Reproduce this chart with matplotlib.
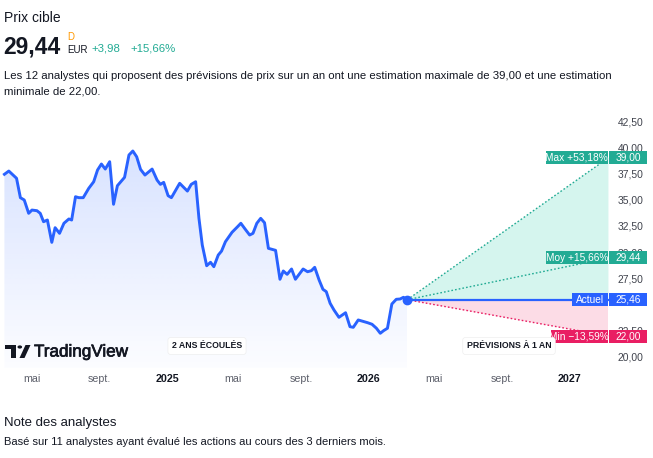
import matplotlib
matplotlib.use('Agg')
import matplotlib.pyplot as plt
import matplotlib.dates as mdates
import matplotlib.patheffects as pe
import numpy as np
import pandas as pd
from matplotlib.patches import Rectangle, Polygon, Circle

plt.rcParams['font.family'] = ['Liberation Sans', 'DejaVu Sans']

# ---------------- data ----------------
dates = ['2024-03-12', '2024-03-20', '2024-04-03', '2024-04-10', '2024-04-17', '2024-04-25',
         '2024-05-01', '2024-05-10', '2024-05-16', '2024-05-22', '2024-05-29', '2024-06-06',
         '2024-06-12', '2024-06-20', '2024-06-28', '2024-07-07', '2024-07-12', '2024-07-19',
         '2024-07-25', '2024-08-02', '2024-08-12', '2024-08-21', '2024-08-28', '2024-09-04',
         '2024-09-11', '2024-09-19', '2024-09-26', '2024-10-03', '2024-10-16', '2024-10-24',
         '2024-10-31', '2024-11-07', '2024-11-14', '2024-11-22', '2024-12-05', '2024-12-14',
         '2024-12-20', '2024-12-26', '2025-01-03', '2025-01-09', '2025-01-24', '2025-02-07',
         '2025-02-14', '2025-02-22', '2025-02-28', '2025-03-06', '2025-03-14', '2025-03-21',
         '2025-03-27', '2025-04-04', '2025-04-10', '2025-04-17', '2025-04-29', '2025-05-09',
         '2025-05-15', '2025-05-24', '2025-05-31', '2025-06-06', '2025-06-13', '2025-06-20',
         '2025-06-27', '2025-07-04', '2025-07-17', '2025-07-25', '2025-07-31', '2025-08-07',
         '2025-08-15', '2025-08-22', '2025-09-05', '2025-09-13', '2025-09-20', '2025-09-26',
         '2025-10-04', '2025-10-11', '2025-10-17', '2025-10-24', '2025-10-31', '2025-11-09',
         '2025-11-21', '2025-11-29', '2025-12-05', '2025-12-14', '2025-12-31', '2026-01-08',
         '2026-01-16', '2026-01-23', '2026-01-29', '2026-02-05', '2026-02-13', '2026-02-21',
         '2026-02-28', '2026-03-06', '2026-03-13']
prices = [37.42, 37.73, 37.04, 35.19, 34.97, 33.70,
          34.01, 33.95, 33.70, 32.90, 33.06, 30.93,
          32.33, 31.79, 32.75, 33.16, 33.06, 35.28,
          35.19, 35.19, 36.08, 36.71, 37.83, 38.40,
          37.92, 38.62, 34.56, 36.33, 37.13, 39.26,
          39.64, 39.09, 37.89, 37.35, 37.92, 36.87,
          36.46, 36.65, 35.38, 35.19, 36.56, 35.82,
          36.46, 36.71, 33.22, 30.68, 28.70, 29.03,
          28.61, 29.72, 30.10, 30.99, 31.89, 32.42,
          32.75, 32.11, 31.63, 31.79, 32.75, 33.22,
          32.80, 30.36, 30.17, 27.41, 28.20, 27.88,
          28.39, 27.41, 28.39, 28.13, 28.23, 28.55,
          27.34, 26.45, 26.23, 25.12, 24.48, 23.78,
          24.22, 22.89, 22.83, 23.53, 23.27, 23.12,
          22.74, 22.26, 22.51, 22.74, 25.05, 25.50,
          25.53, 25.69, 25.46]

current_date = '2026-03-13'
current_price = 25.46
target_date = '2027-03-13'
target_max = 39.00
target_avg = 29.44
target_min = 22.00
label_max = 'Max +53,18%'
label_avg = 'Moy +15,66%'
label_cur = 'Actuel'
label_min = 'Min \u221213,59%'

y_ticks = [20.0, 22.5, 25.0, 27.5, 30.0, 32.5, 35.0, 37.5, 40.0, 42.5]
y_hidden = [25.0]   # covered by the "Actuel" badge in the reference
x_tick_dates = ['2024-05-01', '2024-09-01', '2025-01-01', '2025-05-01', '2025-09-01',
                '2026-01-01', '2026-05-01', '2026-09-01', '2027-01-01']
x_tick_labels = ['mai', 'sept.', '2025', 'mai', 'sept.', '2026', 'mai', 'sept.', '2027']

# ---------------- figure ----------------
W, H = 653, 458
fig = plt.figure(figsize=(W / 100, H / 100), dpi=100)
fig.patch.set_facecolor('white')

TXT = '#131722'
TEAL = '#22ab94'
BLUE = '#2962ff'
PINK = '#e91e63'

def fx(px):
    return px / W

def fy(py):
    return 1 - py / H

# header
fig.text(fx(4), fy(18), 'Prix cible', fontsize=10, color=TXT, va='center', ha='left')
fig.text(fx(3), fy(47), '29,44', fontsize=16.5, fontweight='bold', color=TXT, va='center', ha='left')
fig.text(fx(67), fy(37), 'D', fontsize=7, color='#ff9800', va='center', ha='left')
fig.text(fx(67), fy(50), 'EUR', fontsize=7, color=TXT, va='center', ha='left')
fig.text(fx(91), fy(48.5), '+3,98', fontsize=8.2, color=TEAL, va='center', ha='left')
fig.text(fx(130), fy(48.5), '+15,66%', fontsize=8.2, color=TEAL, va='center', ha='left')
fig.text(fx(4), fy(76), 'Les 12 analystes qui proposent des prévisions de prix sur un an ont une '
         'estimation maximale de 39,00 et une estimation', fontsize=8.2, color=TXT, va='center', ha='left')
fig.text(fx(4), fy(91), 'minimale de 22,00.', fontsize=8.2, color=TXT, va='center', ha='left')
fig.text(fx(4), fy(423), 'Note des analystes', fontsize=9.5, color=TXT, va='center', ha='left')
fig.text(fx(4), fy(442), 'Basé sur 11 analystes ayant évalué les actions au cours des 3 derniers mois.',
         fontsize=8.05, color=TXT, va='center', ha='left')

# axes
ax_top, ax_bot, ax_right = 112, 368, 609
ax = fig.add_axes([0, fy(ax_bot), fx(ax_right), (ax_bot - ax_top) / H])
ax.set_facecolor('none')
for s in ax.spines.values():
    s.set_visible(False)

x = mdates.date2num(pd.to_datetime(dates))
y = np.array(prices)
xc = mdates.date2num(pd.Timestamp(current_date))
xe = mdates.date2num(pd.Timestamp(target_date))
xlim = (mdates.date2num(pd.Timestamp('2024-03-04')), mdates.date2num(pd.Timestamp('2027-03-14')))
ylim = (18.95, 43.36)

# gradient area under price line
poly = Polygon(list(zip(x, y)) + [(x[-1], ylim[0]), (x[0], ylim[0])], closed=True,
               facecolor='none', edgecolor='none')
ax.add_patch(poly)
img = np.zeros((256, 1, 4))
img[..., 0] = 41 / 255
img[..., 1] = 98 / 255
img[..., 2] = 1.0
img[:, 0, 3] = np.linspace(0.015, 0.18, 256)
im = ax.imshow(img, extent=[x[0], x[-1], ylim[0], y.max()], origin='lower', aspect='auto',
               zorder=1, interpolation='bilinear')
im.set_clip_path(poly)

# forecast fills
ax.add_patch(Polygon([(xc, current_price), (xe, target_max), (xe, current_price)],
                     closed=True, facecolor='#d5f5ee', edgecolor='none', zorder=1))
ax.add_patch(Polygon([(xc, current_price), (xe, current_price), (xe, target_min)],
                     closed=True, facecolor='#fcdce6', edgecolor='none', zorder=1))
ax.plot([xc, xe], [current_price, target_max], color=TEAL, lw=1, ls=(0, (1.2, 1.5)), zorder=3)
ax.plot([xc, xe], [current_price, target_avg], color=TEAL, lw=1, ls=(0, (1.2, 1.5)), zorder=3)
ax.plot([xc, xe], [current_price, target_min], color=PINK, lw=1, ls=(0, (1.2, 1.5)), zorder=3)
ax.plot([xc, xe], [current_price, current_price], color=BLUE, lw=1.6, zorder=3)

# price line
ax.plot(x, y, color=BLUE, lw=2.1, zorder=5, solid_joinstyle='round')
ax.plot([xc], [current_price], 'o', ms=6, color=BLUE, zorder=6)

ax.set_xlim(*xlim)
ax.set_ylim(*ylim)

# ticks
ax.yaxis.tick_right()
ax.set_yticks(y_ticks)
ax.set_yticklabels(['' if v in y_hidden else f'{v:.2f}'.replace('.', ',') for v in y_ticks])
ax.tick_params(axis='y', length=0, pad=6, labelsize=7.4, labelcolor='#3f424c')
ax.set_xticks(mdates.date2num(pd.to_datetime(x_tick_dates)))
ax.set_xticklabels(x_tick_labels)
ax.tick_params(axis='x', length=0, pad=4, labelsize=7.7, labelcolor='#5d606b')
for t in ax.get_xticklabels():
    if t.get_text().isdigit():
        t.set_color(TXT)
        t.set_fontweight('bold')

# badges
fig.canvas.draw()

def ypix(v):
    yd = ax.transData.transform((xlim[0], v))[1]
    return H - yd

def badge(x0, x1, v, color, text, fs=7.3):
    yc = ypix(v)
    h = 13
    r = Rectangle((fx(x0), fy(yc + h / 2)), (x1 - x0) / W, h / H, transform=fig.transFigure,
                  facecolor=color, edgecolor='none', zorder=10)
    fig.add_artist(r)
    fig.text(fx((x0 + x1) / 2), fy(yc), text, color='white', fontsize=fs, ha='center', va='center',
             zorder=11)

for v, col, lab, lx0 in [(target_max, TEAL, label_max, 546), (target_avg, TEAL, label_avg, 546),
                         (current_price, BLUE, label_cur, 572), (target_min, PINK, label_min, 551)]:
    badge(lx0, 607.5, v, col, lab)
    badge(609, 647, v, col, f'{v:.2f}'.replace('.', ','))

# period labels
for cx, lab in [(207, '2 ANS ÉCOULÉS'), (509, 'PRÉVISIONS À 1 AN')]:
    fig.text(fx(cx), fy(346), lab, fontsize=6.3, fontweight='bold', color=TXT, ha='center',
             va='center', zorder=12,
             bbox=dict(boxstyle='round,pad=0.45,rounding_size=0.3', fc='white', ec='#eeeeee', lw=0.5))

# TradingView logo
logo = [
    Rectangle((fx(5), fy(349)), 11 / W, 4 / H),
    Rectangle((fx(11), fy(358)), 5 / W, 13 / H),
    Circle((fx(19.8), fy(347)), 2.3 / W),
    Polygon([(fx(19.5), fy(358)), (fx(24.5), fy(358)), (fx(30.5), fy(345)), (fx(25.5), fy(345))], closed=True),
]
for p in logo:
    p.set_transform(fig.transFigure)
    p.set_facecolor(TXT)
    p.set_edgecolor('none')
    p.set_zorder(12)
    fig.add_artist(p)
fig.text(fx(34), fy(352), 'TradingView', fontsize=12.3, color=TXT, ha='left', va='center', zorder=12,
         path_effects=[pe.withStroke(linewidth=0.5, foreground=TXT)])

fig.savefig('out.png', dpi=100, facecolor='white')
